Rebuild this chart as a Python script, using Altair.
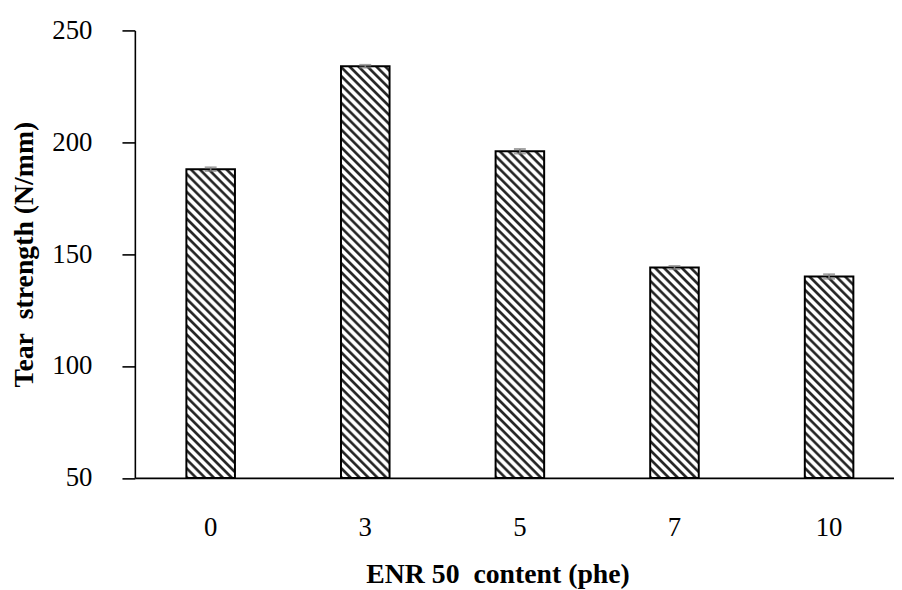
import math
import altair as alt
import pandas as pd

# ---- data ----
categories = ["0", "3", "5", "7", "10"]
strength = [188, 234, 196, 144, 140]
errors = [0.8, 0.6, 1.0, 0.7, 1.0]

df = pd.DataFrame({"cat": categories, "val": strength, "err": errors})
df["lo"] = df["val"] - df["err"]
df["hi"] = df["val"] + df["err"]

# ---- layout ----
FONT = "Liberation Serif, Times New Roman, Times, serif"
PLOT_H = 451.5
PLOT_W = 766
Y_MIN, Y_MAX = 50, 250
STEP = 156.0
BAR_W = 49.0
PAD_INNER = 1 - BAR_W / STEP
PAD_OUTER = 52.0 / STEP
X_RANGE = STEP * (len(categories) - PAD_INNER + 2 * PAD_OUTER)


def hatch(value, period=6.36):
    """Diagonal hatch as a striped linear gradient in bounding-box units."""
    w = BAR_W
    h = (value - Y_MIN) * PLOT_H / (Y_MAX - Y_MIN)
    gx, gy = 1.0 / h, -1.0 / w
    t = (1.0 / h + 1.0 / w) / (gx * gx + gy * gy)
    x2, y2 = t * gx, 1 + t * gy
    n = (w + h) / (math.sqrt(2) * period)
    profile = [(0.0, "#262626"), (0.22, "#262626"), (0.42, "#ffffff"), (0.8, "#ffffff")]
    stops = []
    k = 0
    done = False
    while not done:
        for f, c in profile:
            off = (k + f) / n
            if off > 1:
                done = True
                break
            stops.append({"offset": round(off, 5), "color": c})
        k += 1
    return {"gradient": "linear", "x1": 0, "y1": 1, "x2": round(x2, 5), "y2": round(y2, 5), "stops": stops}


x_enc = alt.X(
    "cat:N",
    sort=categories,
    scale=alt.Scale(range=[0, X_RANGE], paddingInner=PAD_INNER, paddingOuter=PAD_OUTER),
    axis=alt.Axis(
        title="ENR 50\u00a0 content (phe)",
        labelAngle=0,
        ticks=False,
        domainColor="black",
        domainWidth=1.6,
        labelFont=FONT,
        labelFontSize=27,
        labelColor="black",
        labelPadding=58.5,
        labelBaseline="alphabetic",
        titleFont=FONT,
        titleFontSize=28,
        titleFontWeight="bold",
        titleColor="black",
        titleX=366,
        titleY=105.5,
        titleBaseline="alphabetic",
        titleAlign="center",
    ),
)

y_scale = alt.Scale(domain=[Y_MIN, Y_MAX], nice=False, zero=False)
y_axis = alt.Axis(
    title="Tear\u00a0 strength (N/mm)",
    values=[50, 100, 150, 200, 250],
    grid=False,
    domainColor="black",
    domainWidth=1.6,
    tickColor="black",
    tickWidth=1.6,
    tickSize=13,
    labelFont=FONT,
    labelFontSize=27,
    labelColor="black",
    labelPadding=30.3,
    labelBaseline="alphabetic",
    labelOffset=8,
    titleFont=FONT,
    titleFontSize=28,
    titleFontWeight="bold",
    titleColor="black",
    titleX=-103,
    titleY=PLOT_H / 2,
    titleBaseline="alphabetic",
    titleAlign="center",
)

base = alt.Chart(df).encode(x=x_enc)

layers = []
for c, v in zip(categories, strength):
    layers.append(
        base.transform_filter(alt.datum.cat == c)
        .mark_bar(fill=hatch(v), stroke="black", strokeWidth=2)
        .encode(y=alt.Y("val:Q", scale=y_scale, axis=y_axis), y2=alt.datum(Y_MIN))
    )

err_rule = base.mark_rule(color="#7f7f7f", strokeWidth=1.6).encode(
    y=alt.Y("lo:Q", scale=y_scale, axis=y_axis), y2="hi:Q"
)
cap_hi = base.mark_tick(orient="horizontal", size=12, thickness=2, color="#7f7f7f").encode(
    y=alt.Y("hi:Q", scale=y_scale, axis=y_axis)
)
cap_lo = base.mark_tick(orient="horizontal", size=12, thickness=2, color="#7f7f7f").encode(
    y=alt.Y("lo:Q", scale=y_scale, axis=y_axis)
)

chart = (
    alt.layer(*layers, err_rule, cap_hi, cap_lo)
    .properties(
        width=PLOT_W,
        height=PLOT_H,
        autosize=alt.AutoSizeParams(type="none"),
        padding={"left": 128, "top": 20, "right": 0, "bottom": 110.5},
        background="white",
    )
    .configure_view(stroke=None)
)

chart.save("out.html", embed_options={"renderer": "svg", "actions": False})
